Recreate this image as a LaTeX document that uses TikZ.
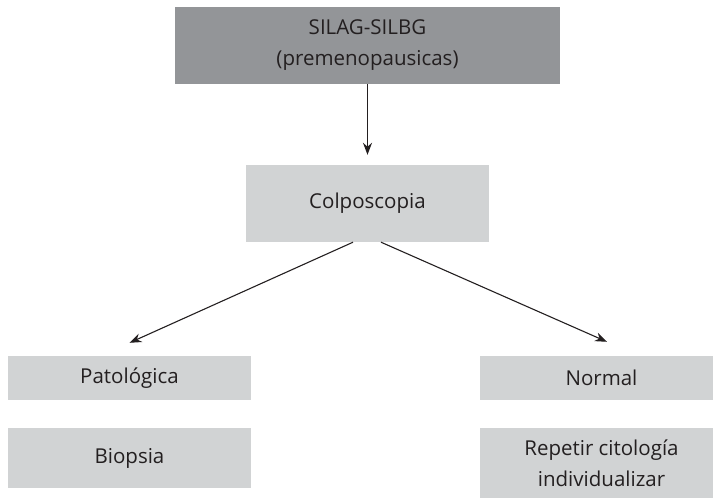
\documentclass[tikz,border=0pt]{standalone}
\usepackage{fontspec}
\setmainfont{Open Sans}
\usetikzlibrary{arrows.meta}
\definecolor{darkbox}{HTML}{939598}
\definecolor{lightbox}{HTML}{D1D3D4}
\definecolor{inktext}{HTML}{231F20}
\tikzset{
  box/.style={fill=lightbox, text=inktext, minimum width=243pt, align=center, inner sep=0pt, font=\fontsize{20.5}{31}\selectfont},
  flow/.style={-{Stealth[length=12pt,width=9pt]}, line width=1.1pt, draw=inktext}
}

\begin{document}
\begin{tikzpicture}[x=1pt, y=-1pt]
\useasboundingbox (0,0) rectangle (713,498); % page size

\node[box, fill=darkbox, minimum width=385pt, minimum height=77pt] (silag) at (367.5,45.5) {SILAG-SILBG\\(premenopausicas)}; % top box
\node[box, minimum height=77pt] (colpo) at (367.5,203.5) {Colposcopia}; % middle box

\node[box, minimum height=44pt] (patol) at (129.5,378) {Patológica}; % left branch
\node[box, minimum height=60pt] (biopsia) at (129.5,458) {Biopsia}; % left result
\node[box, minimum height=44pt] (normal) at (601.5,378) {Normal}; % right branch
\node[box, minimum height=70pt] (repetir) at (601.5,463) {Repetir citología\\individualizar}; % right result

\draw[flow] (silag.south) -- ([yshift=10pt]colpo.north); % down to colposcopia
\draw[flow] ([xshift=-14.5pt]colpo.south) -- ([yshift=13pt]patol.north); % to patologica
\draw[flow] ([xshift=13.5pt]colpo.south) -- ([xshift=5.5pt,yshift=14pt]normal.north); % to normal

\end{tikzpicture}
\end{document}
